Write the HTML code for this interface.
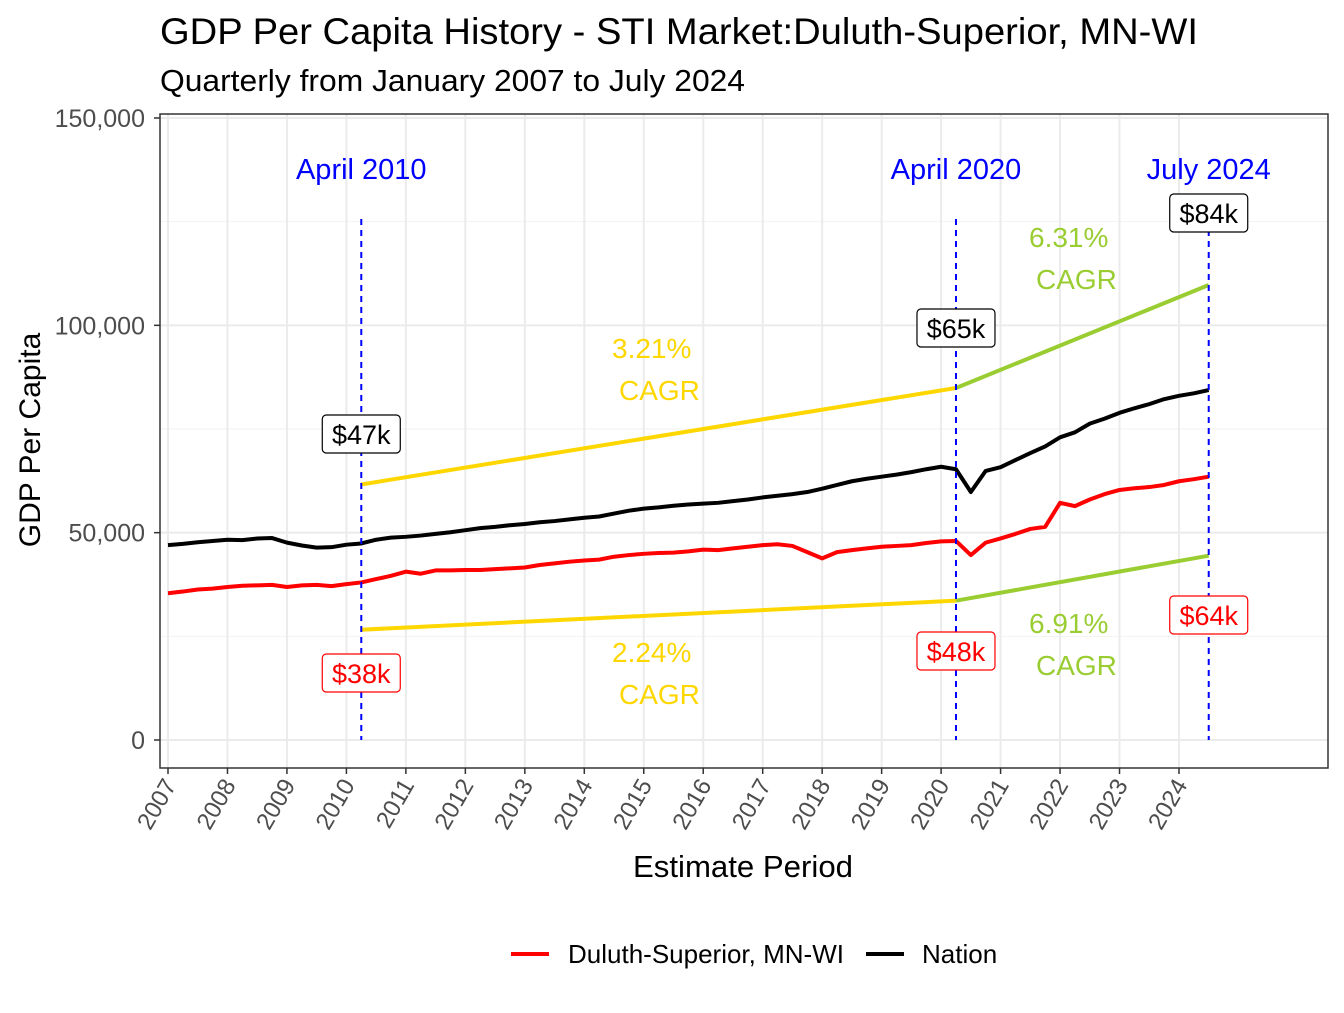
<!DOCTYPE html>
<html><head><meta charset="utf-8"><style>
body{margin:0;background:#fff}
svg text{font-family:"Liberation Sans",Arial,sans-serif}
</style></head><body>
<svg id="chart" width="1344" height="1008" xmlns="http://www.w3.org/2000/svg">
<rect width="1344" height="1008" fill="#fff"/>
<text x="160" y="44" font-size="37" textLength="1038" lengthAdjust="spacingAndGlyphs" fill="#000">GDP Per Capita History - STI Market:Duluth-Superior, MN-WI</text>
<text x="160" y="91" font-size="31" textLength="585" lengthAdjust="spacingAndGlyphs" fill="#000">Quarterly from January 2007 to July 2024</text>
<g id="grid"></g>
<g id="axes"></g>
<g id="marks"></g>
<rect x="160" y="114" width="1168" height="654" fill="none" stroke="#333" stroke-width="1.5"/>
<text transform="translate(40,440) rotate(-90)" text-anchor="middle" font-size="30">GDP Per Capita</text>
<text x="743" y="877" text-anchor="middle" font-size="31" textLength="220" lengthAdjust="spacingAndGlyphs">Estimate Period</text>
<g>
<line x1="511" y1="954" x2="549" y2="954" stroke="#ff0000" stroke-width="4"/>
<text x="568" y="963" font-size="26">Duluth-Superior, MN-WI</text>
<line x1="866" y1="954" x2="904" y2="954" stroke="#000" stroke-width="4"/>
<text x="922" y="963" font-size="26">Nation</text>
</g>
</svg>
<script>
const nation=[47.0,47.3,47.7,48.0,48.3,48.2,48.6,48.7,47.6,46.9,46.4,46.5,47.1,47.4,48.3,48.8,49.0,49.3,49.7,50.1,50.6,51.1,51.4,51.8,52.1,52.5,52.8,53.2,53.6,53.9,54.6,55.3,55.8,56.1,56.5,56.8,57.0,57.2,57.6,58.0,58.5,58.9,59.3,59.8,60.6,61.5,62.4,63.0,63.5,64.0,64.6,65.3,65.9,65.3,59.8,64.9,65.8,67.5,69.2,70.8,73.0,74.2,76.3,77.5,78.9,80.0,81.0,82.2,83.0,83.6,84.4];
const duluth=[35.4,35.8,36.3,36.5,36.9,37.2,37.3,37.4,36.9,37.3,37.4,37.1,37.6,38.0,38.8,39.6,40.6,40.1,40.9,40.9,41.0,41.0,41.2,41.4,41.6,42.2,42.6,43.0,43.3,43.5,44.2,44.6,44.9,45.1,45.2,45.5,45.9,45.8,46.2,46.6,47.0,47.2,46.8,45.3,43.8,45.3,45.8,46.2,46.6,46.8,47.0,47.5,47.9,48.0,44.6,47.6,48.6,49.7,50.9,51.4,57.2,56.4,58.0,59.3,60.3,60.7,61.0,61.5,62.4,62.9,63.5];
const years=[2007,2008,2009,2010,2011,2012,2013,2014,2015,2016,2017,2018,2019,2020,2021,2022,2023,2024];
const yTicks=[0,50000,100000,150000];
const yTickLabels=["0","50,000","100,000","150,000"];
const markerIdx=[13,53,70];
const markerNames=["April 2010","April 2020","July 2024"];
const cagrUpper=["3.21%","6.31%"];
const cagrLower=["2.24%","6.91%"];
const NS="http://www.w3.org/2000/svg";
const X=t=>168+(t-2007)*59.47;
const Y=v=>740-v*622/150000;
const tq=i=>2007+i*0.25;
function el(tag,attrs,parent,txt){const e=document.createElementNS(NS,tag);for(const k in attrs)e.setAttribute(k,attrs[k]);if(txt!==undefined)e.textContent=txt;parent.appendChild(e);return e;}
const grid=document.getElementById('grid'),axes=document.getElementById('axes'),marks=document.getElementById('marks');
[25000,75000,125000].forEach(v=>{const l=el('line',{x1:160,x2:1328,y1:Y(v),y2:Y(v),stroke:'#f2f2f2','stroke-width':1},grid);

});
yTicks.forEach((v,i)=>{const l=el('line',{x1:160,x2:1328,y1:Y(v),y2:Y(v),stroke:'#ebebeb','stroke-width':2},grid);


el('line',{x1:154,x2:160,y1:Y(v),y2:Y(v),stroke:'#333','stroke-width':1.5},axes);
const t=el('text',{x:145,y:Y(v)+9,'text-anchor':'end','font-size':25,fill:'#4d4d4d'},axes,yTickLabels[i]);

});
years.forEach(yr=>{const x=X(yr);const l=el('line',{x1:x,x2:x,y1:114,y2:768,stroke:'#ebebeb','stroke-width':2},grid);


el('line',{x1:x,x2:x,y1:768,y2:774,stroke:'#333','stroke-width':1.5},axes);
const t=el('text',{transform:`translate(${x+9},${785}) rotate(-60)`,'text-anchor':'end','font-size':24,fill:'#4d4d4d'},axes,String(yr));

});
function seg(i0,i1,v0,v1,color,name){const l=el('line',{x1:X(tq(i0)),y1:Y(v0),x2:X(tq(i1)),y2:Y(v1),stroke:color,'stroke-width':4},marks);

}
const a=markerIdx[0],b=markerIdx[1],c=markerIdx[2];
seg(a,b,nation[a]*1300,nation[b]*1300,'#ffd700','cagr-upper-2010-2020');
seg(b,c,nation[b]*1300,nation[c]*1300,'#9acd32','cagr-upper-2020-2024');
seg(a,b,duluth[a]*700,duluth[b]*700,'#ffd700','cagr-lower-2010-2020');
seg(b,c,duluth[b]*700,duluth[c]*700,'#9acd32','cagr-lower-2020-2024');
function series(arr,color,name){const p=el('polyline',{points:arr.map((v,i)=>X(tq(i))+','+Y(v*1000)).join(' '),fill:'none',stroke:color,'stroke-width':4,'stroke-linejoin':'round'},marks);

}
series(duluth,'#ff0000','duluth-line');
series(nation,'#000000','nation-line');
const upY=[434,328,213], loY=[673,651,615];
markerIdx.forEach((idx,k)=>{const x=X(tq(idx));
const l=el('line',{x1:x,x2:x,y1:219,y2:740,stroke:'#0000ff','stroke-width':2,'stroke-dasharray':'6,5'},marks);


const t=el('text',{x:x,y:179,'text-anchor':'middle','font-size':29,fill:'#0000ff'},marks,markerNames[k]);


const nv=nation[idx],dv=duluth[idx];
[[nv,upY[k],'#000'],[dv,loY[k],'#ff0000']].forEach(([v,cy,col])=>{
const g=el('g',{},marks);


el('rect',{x:x-39,y:cy-19,width:78,height:38,rx:4,fill:'#fff',stroke:col,'stroke-width':1.2},g);
el('text',{x:x,y:cy+10,'text-anchor':'middle','font-size':27,fill:col},g,'$'+Math.round(v)+'k');});});
function cagr(txt,x,y,col){const t=el('text',{x:x,y:y,'font-size':28,fill:col},marks);


el('tspan',{x:x,y:y},t,txt);el('tspan',{x:x+7,y:y+42},t,'CAGR');}
cagr(cagrUpper[0],612,358,'#ffd700');
cagr(cagrUpper[1],1029,247,'#9acd32');
cagr(cagrLower[0],612,662,'#ffd700');
cagr(cagrLower[1],1029,633,'#9acd32');
</script>
</body></html>
